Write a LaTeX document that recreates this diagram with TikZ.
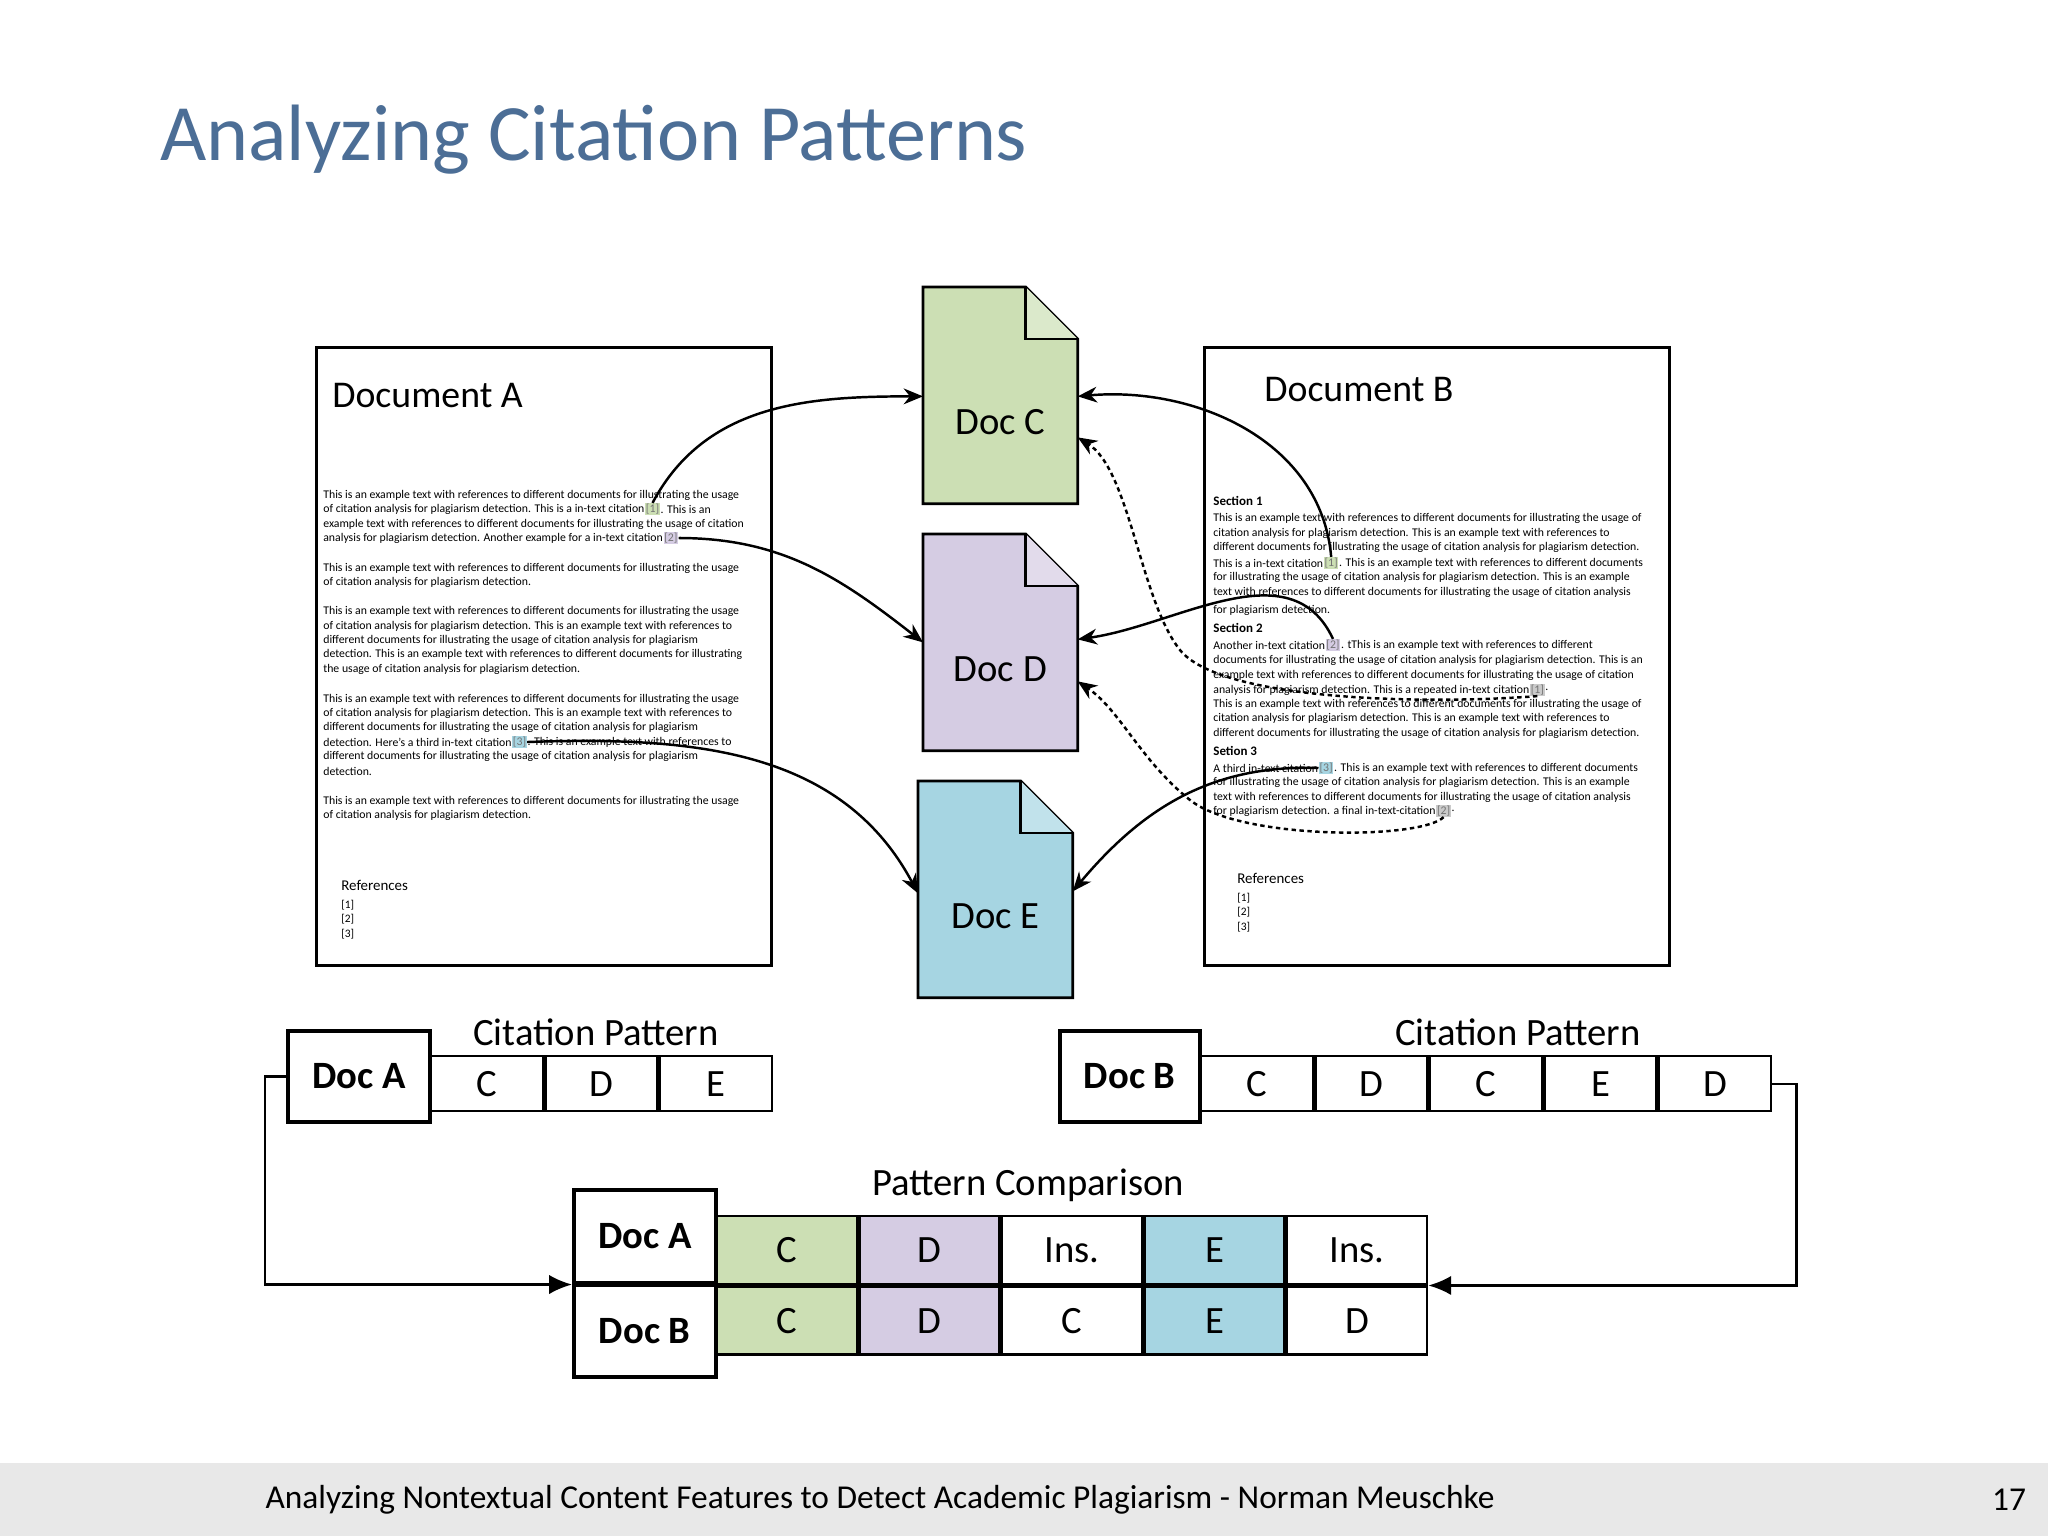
\documentclass[tikz,border=0pt]{standalone}
\usepackage{fontspec}
\setmainfont{Carlito}
\usetikzlibrary{arrows.meta,positioning}
\definecolor{ttl}{HTML}{4C6E96}
\definecolor{cg}{HTML}{CCDFB4}
\definecolor{cp}{HTML}{D5CCE3}
\definecolor{cb}{HTML}{A6D5E2}
\definecolor{cgr}{HTML}{CACACA}
\definecolor{foot}{HTML}{E8E8E8}
\newlength{\unitpx}\setlength{\unitpx}{0.02cm}
\tikzset{
  tl/.style={anchor=west,inner sep=0pt,font=\fontsize{6.7}{7}\selectfont},
  cit/.style={anchor=west,inner sep=0.4pt,text=black!55,font=\fontsize{6.7}{7}\selectfont},
  sec/.style={anchor=west,inner sep=0pt,font=\fontsize{7.4}{8}\selectfont\bfseries},
  refs/.style={anchor=north west,inner sep=0pt,align=left,font=\fontsize{6.5}{8.2}\selectfont},
  docbox/.style={draw,line width=1.6pt,anchor=north west,inner sep=0pt},
  arr/.style={line width=1.4pt,-{Stealth[length=11pt,width=9pt]}},
  darr/.style={arr,dash pattern=on 2.5pt off 2pt},
  cell/.style={draw,line width=1.4pt,minimum width=112\unitpx,minimum height=55\unitpx,inner sep=0pt,anchor=north west,font=\fontsize{22}{24}\selectfont},
  pcell/.style={draw,line width=1.4pt,minimum width=140\unitpx,minimum height=68\unitpx,inner sep=0pt,anchor=north west,font=\fontsize{22}{24}\selectfont},
  lbl/.style={draw,line width=2pt,inner sep=0pt,anchor=north west,font=\fontsize{22}{24}\selectfont\bfseries},
  conn/.style={line width=1.4pt,-{Latex[length=13pt,width=11pt]}}
}
\begin{document}
\begin{tikzpicture}[x=0.02cm,y=-0.02cm]
\useasboundingbox (0,0) rectangle (2048,1536);
\fill[white] (0,0) rectangle (2048,1536);
\node[anchor=west,inner sep=0pt,text=ttl,font=\fontsize{45.5}{50}\selectfont] (title) at (160,140) {Analyzing Citation Patterns};
% footer
\fill[foot] (0,1463) rectangle (2048,1536);
\node[inner sep=0pt,font=\fontsize{19}{21}\selectfont] (ft) at (880,1500) {Analyzing Nontextual Content Features to Detect Academic Plagiarism - Norman Meuschke};
\node[inner sep=0pt,font=\fontsize{19}{21}\selectfont] (pg) at (2009,1500) {17};

% Document A
\node[docbox,minimum width=455\unitpx,minimum height=618\unitpx] (dA) at (315,346) {};
\node[anchor=west,inner sep=0pt,font=\fontsize{21.5}{24}\selectfont] (dAt) at (332,396) {Document A};
\node[tl] (a1) at (323,495) {This is an example text with references to different documents for illustrating the usage};
\node[tl] (a2) at (323,509) {of citation analysis for plagiarism detection. This is a in-text citation};
\node[cit,fill=cg] (ca1) at (a2.east) {[1]};
\node[tl] (a2b) at (ca1.east) {. This is an};
\node[tl] (a3) at (323,524) {example text with references to different documents for illustrating the usage of citation};
\node[tl] (a4) at (323,538) {analysis for plagiarism detection. Another example for a in-text citation};
\node[cit,fill=cp] (ca2) at (a4.east) {[2]};
\node[tl] (a4b) at (ca2.east) {.};
\node[tl] (a5) at (323,568) {This is an example text with references to different documents for illustrating the usage};
\node[tl] (a6) at (323,582) {of citation analysis for plagiarism detection.};
\node[tl] (a7) at (323,611) {This is an example text with references to different documents for illustrating the usage};
\node[tl] (a8) at (323,626) {of citation analysis for plagiarism detection. This is an example text with references to};
\node[tl] (a9) at (323,640) {different documents for illustrating the usage of citation analysis for plagiarism};
\node[tl] (a10) at (323,654) {detection. This is an example text with references to different documents for illustrating};
\node[tl] (a11) at (323,669) {the usage of citation analysis for plagiarism detection.};
\node[tl] (a12) at (323,699) {This is an example text with references to different documents for illustrating the usage};
\node[tl] (a13) at (323,713) {of citation analysis for plagiarism detection. This is an example text with references to};
\node[tl] (a14) at (323,727) {different documents for illustrating the usage of citation analysis for plagiarism};
\node[tl] (a15) at (323,742) {detection. Here’s a third in-text citation};
\node[cit,fill=cb] (ca3) at (a15.east) {[3]};
\node[tl] (a15b) at (ca3.east) {. This is an example text with references to};
\node[tl] (a16) at (323,756) {different documents for illustrating the usage of citation analysis for plagiarism};
\node[tl] (a17) at (323,771) {detection.};
\node[tl] (a18) at (323,801) {This is an example text with references to different documents for illustrating the usage};
\node[tl] (a19) at (323,815) {of citation analysis for plagiarism detection.};
\node[refs] (ra) at (341,880) {{\fontsize{8.5}{10}\selectfont References}\\[2pt]{}[1]\\{}[2]\\{}[3]};

% Document B
\node[docbox,minimum width=465\unitpx,minimum height=618\unitpx] (dB) at (1203,346) {};
\node[anchor=west,inner sep=0pt,font=\fontsize{21.5}{24}\selectfont] (dBt) at (1264,390) {Document B};
\node[sec] (s1) at (1213,501) {Section 1};
\node[tl] (b1) at (1213,518) {This is an example text with references to different documents for illustrating the usage of};
\node[tl] (b2) at (1213,533) {citation analysis for plagiarism detection. This is an example text with references to};
\node[tl] (b3) at (1213,547) {different documents for illustrating the usage of citation analysis for plagiarism detection.};
\node[tl] (b4) at (1213,563) {This is a in-text citation};
\node[cit,fill=cg] (cb1) at (b4.east) {[1]};
\node[tl] (b4b) at (cb1.east) {. This is an example text with references to different documents};
\node[tl] (b5) at (1213,577) {for illustrating the usage of citation analysis for plagiarism detection. This is an example};
\node[tl] (b6) at (1213,592) {text with references to different documents for illustrating the usage of citation analysis};
\node[tl] (b7) at (1213,610) {for plagiarism detection.};
\node[sec] (s2) at (1213,628) {Section 2};
\node[tl] (b8) at (1213,645) {Another in-text citation};
\node[cit,fill=cp] (cb2) at (b8.east) {[2]};
\node[tl] (b8b) at (cb2.east) {. tThis is an example text with references to different};
\node[tl] (b9) at (1213,660) {documents for illustrating the usage of citation analysis for plagiarism detection. This is an};
\node[tl] (b10) at (1213,675) {example text with references to different documents for illustrating the usage of citation};
\node[tl] (b11) at (1213,690) {analysis for plagiarism detection. This is a repeated in-text citation};
\node[cit,fill=cgr] (cb4) at (b11.east) {[1]};
\node[tl] (b11b) at (cb4.east) {.};
\node[tl] (b12) at (1213,704) {This is an example text with references to different documents for illustrating the usage of};
\node[tl] (b13) at (1213,718) {citation analysis for plagiarism detection. This is an example text with references to};
\node[tl] (b14) at (1213,733) {different documents for illustrating the usage of citation analysis for plagiarism detection.};
\node[sec] (s3) at (1213,751) {Setion 3};
\node[tl] (b15) at (1213,768) {A third in-text citation};
\node[cit,fill=cb] (cb3) at (b15.east) {[3]};
\node[tl] (b15b) at (cb3.east) {. This is an example text with references to different documents};
\node[tl] (b16) at (1213,782) {for illustrating the usage of citation analysis for plagiarism detection. This is an example};
\node[tl] (b17) at (1213,797) {text with references to different documents for illustrating the usage of citation analysis};
\node[tl] (b18) at (1213,811) {for plagiarism detection. a final in-text-citation};
\node[cit,fill=cgr] (cb5) at (b18.east) {[2]};
\node[tl] (b18b) at (cb5.east) {.};
\node[refs] (rb) at (1237,873) {{\fontsize{8.5}{10}\selectfont References}\\[2pt]{}[1]\\{}[2]\\{}[3]};

% Docs C D E
\foreach \n/\x/\y/\c in {C/923/287/cg,D/923/534/cp,E/918/781/cb}{
  \node[inner sep=0pt,minimum width=154\unitpx,minimum height=216\unitpx,anchor=north west] (d\n) at (\x,\y) {};
  \draw[line width=1.6pt,fill=\c] (d\n.north west) -- ([xshift=-52\unitpx]d\n.north east) -- ([yshift=-52\unitpx]d\n.north east) -- (d\n.south east) -- (d\n.south west) -- cycle;
  \draw[line width=1.6pt,fill=\c!70!white] ([xshift=-52\unitpx]d\n.north east) -- ([xshift=-52\unitpx,yshift=-52\unitpx]d\n.north east) -- ([yshift=-52\unitpx]d\n.north east);
  \node[inner sep=0pt,font=\fontsize{22}{24}\selectfont] (l\n) at ([yshift=-27\unitpx]d\n.center) {Doc \n};
}

% arrows A
\draw[arr] (ca1.north) to[out=62,in=180] ([yshift=-1\unitpx]dC.west);
\draw[arr] (ca2.east) to[out=0,in=142] (dD.west);
\draw[arr] (ca3.east) to[out=2,in=118] ([yshift=-4\unitpx]dE.west);
% arrows B
\draw[arr] (cb1.north) to[out=95,in=5] ([yshift=-1\unitpx]dC.east);
\draw[arr] (cb2.north) to[out=115,in=8] ([yshift=3\unitpx]dD.east);
\draw[darr] (cb4.south) .. controls (1420,705) and (1220,700) .. (1180,650) .. controls (1140,600) and (1130,470) .. ([yshift=-42\unitpx]dC.east);
\draw[arr] (cb3.west) to[out=178,in=50] ([yshift=-2\unitpx]dE.east);
\draw[darr] (cb5.south) .. controls (1420,840) and (1240,840) .. (1190,800) .. controls (1140,760) and (1120,710) .. ([yshift=-39\unitpx]dD.east);

% Citation patterns
\node[lbl,minimum width=142\unitpx,minimum height=91\unitpx] (pA) at (286,1029) {Doc A};
\node[cell] (pA1) at (430,1055) {C};
\node[cell] (pA2) at (pA1.north east) {D};
\node[cell] (pA3) at (pA2.north east) {E};
\node[inner sep=0pt,font=\fontsize{22}{24}\selectfont] (cpA) at (596,1032) {Citation Pattern};
\node[lbl,minimum width=140\unitpx,minimum height=91\unitpx] (pB) at (1058,1029) {Doc B};
\node[cell] (pB1) at (1200,1055) {C};
\node[cell] (pB2) at (pB1.north east) {D};
\node[cell] (pB3) at (pB2.north east) {C};
\node[cell] (pB4) at (pB3.north east) {E};
\node[cell] (pB5) at (pB4.north east) {D};
\node[inner sep=0pt,font=\fontsize{22}{24}\selectfont] (cpB) at (1518,1032) {Citation Pattern};

% Pattern comparison
\node[inner sep=0pt,font=\fontsize{22}{24}\selectfont] (pc) at (1028,1185) {Pattern Comparison};
\node[lbl,minimum width=142\unitpx,minimum height=93\unitpx] (cA) at (572,1188) {Doc A};
\node[lbl,minimum width=142\unitpx,minimum height=92\unitpx] (cB) at (572,1283) {Doc B};
\node[pcell,fill=cg] (r1) at (716,1215) {C};
\node[pcell,fill=cp] (r2) at (r1.north east) {D};
\node[pcell] (r3) at (r2.north east) {Ins.};
\node[pcell,fill=cb] (r4) at (r3.north east) {E};
\node[pcell] (r5) at (r4.north east) {Ins.};
\node[pcell,fill=cg] (q1) at (r1.south west) {C};
\node[pcell,fill=cp] (q2) at (q1.north east) {D};
\node[pcell] (q3) at (q2.north east) {C};
\node[pcell,fill=cb] (q4) at (q3.north east) {E};
\node[pcell] (q5) at (q4.north east) {D};

\draw[conn] (pA.west) -- ++(-21,0) |- (cA.south west);
\draw[conn] (pB5.east) -- ++(24,0) |- (r5.south east);
\end{tikzpicture}
\end{document}
